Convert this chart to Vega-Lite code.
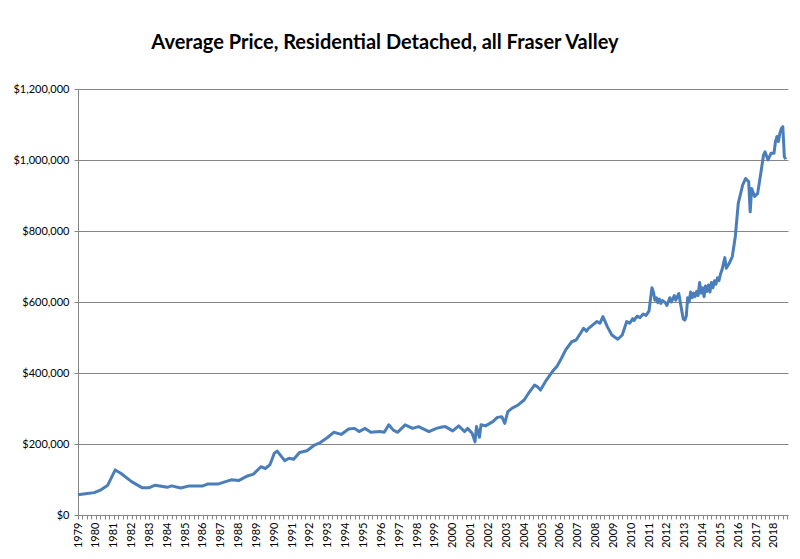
{
  "$schema": "https://vega.github.io/schema/vega-lite/v6.json",
  "width": 710,
  "height": 426,
  "autosize": {"type": "none"},
  "padding": {"left": 78, "top": 89, "right": 12, "bottom": 44},
  "background": "white",
  "title": {
    "text": "Average Price, Residential Detached, all Fraser Valley",
    "font": "Lato",
    "fontSize": 20,
    "fontWeight": "bold",
    "color": "#000000",
    "anchor": "middle",
    "dx": -48,
    "offset": 30
  },
  "data": {
    "values": [
      {"month": "1979-01", "price": 57000},
      {"month": "1979-06", "price": 60000},
      {"month": "1979-12", "price": 63000},
      {"month": "1980-04", "price": 70000},
      {"month": "1980-09", "price": 84000},
      {"month": "1981-02", "price": 127000},
      {"month": "1981-06", "price": 117000},
      {"month": "1982-01", "price": 94000},
      {"month": "1982-08", "price": 77000},
      {"month": "1983-01", "price": 77000},
      {"month": "1983-05", "price": 84000},
      {"month": "1984-01", "price": 78000},
      {"month": "1984-04", "price": 82000},
      {"month": "1984-10", "price": 76000},
      {"month": "1985-04", "price": 82000},
      {"month": "1986-01", "price": 82000},
      {"month": "1986-04", "price": 87000},
      {"month": "1986-11", "price": 87000},
      {"month": "1987-08", "price": 99000},
      {"month": "1988-01", "price": 97000},
      {"month": "1988-07", "price": 110000},
      {"month": "1988-11", "price": 115000},
      {"month": "1989-04", "price": 136000},
      {"month": "1989-07", "price": 131000},
      {"month": "1989-10", "price": 141000},
      {"month": "1990-01", "price": 174000},
      {"month": "1990-03", "price": 180000},
      {"month": "1990-08", "price": 153000},
      {"month": "1990-11", "price": 160000},
      {"month": "1991-02", "price": 157000},
      {"month": "1991-06", "price": 176000},
      {"month": "1991-11", "price": 181000},
      {"month": "1992-04", "price": 197000},
      {"month": "1992-08", "price": 204000},
      {"month": "1993-01", "price": 219000},
      {"month": "1993-05", "price": 233000},
      {"month": "1993-10", "price": 227000},
      {"month": "1994-03", "price": 242000},
      {"month": "1994-07", "price": 244000},
      {"month": "1994-10", "price": 235000},
      {"month": "1995-02", "price": 244000},
      {"month": "1995-06", "price": 233000},
      {"month": "1995-12", "price": 235000},
      {"month": "1996-03", "price": 233000},
      {"month": "1996-06", "price": 254000},
      {"month": "1996-09", "price": 239000},
      {"month": "1996-12", "price": 233000},
      {"month": "1997-05", "price": 254000},
      {"month": "1997-10", "price": 244000},
      {"month": "1998-02", "price": 249000},
      {"month": "1998-09", "price": 235000},
      {"month": "1999-02", "price": 244000},
      {"month": "1999-05", "price": 247000},
      {"month": "1999-08", "price": 249000},
      {"month": "2000-01", "price": 237000},
      {"month": "2000-05", "price": 251000},
      {"month": "2000-09", "price": 235000},
      {"month": "2000-11", "price": 244000},
      {"month": "2001-02", "price": 230000},
      {"month": "2001-04", "price": 206000},
      {"month": "2001-05", "price": 249000},
      {"month": "2001-07", "price": 219000},
      {"month": "2001-08", "price": 254000},
      {"month": "2001-11", "price": 251000},
      {"month": "2002-04", "price": 263000},
      {"month": "2002-07", "price": 275000},
      {"month": "2002-10", "price": 277000},
      {"month": "2002-12", "price": 258000},
      {"month": "2003-02", "price": 291000},
      {"month": "2003-05", "price": 301000},
      {"month": "2003-09", "price": 310000},
      {"month": "2004-01", "price": 324000},
      {"month": "2004-04", "price": 343000},
      {"month": "2004-08", "price": 366000},
      {"month": "2004-10", "price": 361000},
      {"month": "2004-12", "price": 352000},
      {"month": "2005-04", "price": 380000},
      {"month": "2005-08", "price": 404000},
      {"month": "2005-11", "price": 418000},
      {"month": "2006-02", "price": 441000},
      {"month": "2006-05", "price": 465000},
      {"month": "2006-09", "price": 488000},
      {"month": "2006-12", "price": 493000},
      {"month": "2007-03", "price": 512000},
      {"month": "2007-05", "price": 526000},
      {"month": "2007-07", "price": 518000},
      {"month": "2007-08", "price": 524000},
      {"month": "2007-11", "price": 535000},
      {"month": "2008-02", "price": 545000},
      {"month": "2008-04", "price": 540000},
      {"month": "2008-06", "price": 559000},
      {"month": "2008-09", "price": 530000},
      {"month": "2008-12", "price": 507000},
      {"month": "2009-04", "price": 495000},
      {"month": "2009-07", "price": 507000},
      {"month": "2009-10", "price": 545000},
      {"month": "2009-12", "price": 540000},
      {"month": "2010-02", "price": 553000},
      {"month": "2010-03", "price": 548000},
      {"month": "2010-05", "price": 560000},
      {"month": "2010-07", "price": 556000},
      {"month": "2010-09", "price": 566000},
      {"month": "2010-11", "price": 562000},
      {"month": "2011-01", "price": 575000},
      {"month": "2011-02", "price": 610000},
      {"month": "2011-03", "price": 640000},
      {"month": "2011-04", "price": 628000},
      {"month": "2011-05", "price": 605000},
      {"month": "2011-06", "price": 612000},
      {"month": "2011-07", "price": 598000},
      {"month": "2011-08", "price": 608000},
      {"month": "2011-09", "price": 596000},
      {"month": "2011-10", "price": 604000},
      {"month": "2011-12", "price": 598000},
      {"month": "2012-01", "price": 590000},
      {"month": "2012-03", "price": 612000},
      {"month": "2012-04", "price": 600000},
      {"month": "2012-06", "price": 618000},
      {"month": "2012-07", "price": 605000},
      {"month": "2012-09", "price": 624000},
      {"month": "2012-10", "price": 600000},
      {"month": "2012-11", "price": 575000},
      {"month": "2012-12", "price": 552000},
      {"month": "2013-01", "price": 549000},
      {"month": "2013-02", "price": 560000},
      {"month": "2013-03", "price": 612000},
      {"month": "2013-04", "price": 600000},
      {"month": "2013-05", "price": 628000},
      {"month": "2013-06", "price": 612000},
      {"month": "2013-07", "price": 625000},
      {"month": "2013-08", "price": 615000},
      {"month": "2013-09", "price": 630000},
      {"month": "2013-10", "price": 618000},
      {"month": "2013-11", "price": 655000},
      {"month": "2013-12", "price": 625000},
      {"month": "2014-01", "price": 640000},
      {"month": "2014-02", "price": 615000},
      {"month": "2014-03", "price": 645000},
      {"month": "2014-04", "price": 630000},
      {"month": "2014-05", "price": 648000},
      {"month": "2014-06", "price": 628000},
      {"month": "2014-07", "price": 655000},
      {"month": "2014-08", "price": 640000},
      {"month": "2014-09", "price": 660000},
      {"month": "2014-10", "price": 650000},
      {"month": "2014-11", "price": 668000},
      {"month": "2014-12", "price": 660000},
      {"month": "2015-01", "price": 678000},
      {"month": "2015-02", "price": 690000},
      {"month": "2015-04", "price": 725000},
      {"month": "2015-05", "price": 695000},
      {"month": "2015-07", "price": 709000},
      {"month": "2015-09", "price": 728000},
      {"month": "2015-11", "price": 784000},
      {"month": "2016-01", "price": 878000},
      {"month": "2016-04", "price": 930000},
      {"month": "2016-06", "price": 948000},
      {"month": "2016-08", "price": 939000},
      {"month": "2016-09", "price": 854000},
      {"month": "2016-10", "price": 920000},
      {"month": "2016-12", "price": 897000},
      {"month": "2017-02", "price": 906000},
      {"month": "2017-04", "price": 958000},
      {"month": "2017-06", "price": 1014000},
      {"month": "2017-07", "price": 1023000},
      {"month": "2017-09", "price": 1000000},
      {"month": "2017-11", "price": 1019000},
      {"month": "2018-01", "price": 1019000},
      {"month": "2018-02", "price": 1052000},
      {"month": "2018-03", "price": 1066000},
      {"month": "2018-04", "price": 1052000},
      {"month": "2018-05", "price": 1075000},
      {"month": "2018-06", "price": 1089000},
      {"month": "2018-07", "price": 1094000},
      {"month": "2018-08", "price": 1009000},
      {"month": "2018-09", "price": 1002000}
    ]
  },
  "mark": {"type": "line", "color": "#4A7EBB", "strokeWidth": 3, "strokeJoin": "round"},
  "encoding": {
    "x": {
      "field": "month",
      "type": "temporal",
      "scale": {"domain": ["1979-01-01", "2018-10-15"]},
      "axis": {
        "title": null,
        "grid": false,
        "tickCount": {"interval": "month", "step": 3},
        "labelExpr": "month(datum.value) == 0 ? timeFormat(datum.value, '%Y') : ''",
        "labelOverlap": false,
        "labelAngle": 270,
        "labelAlign": "right",
        "labelBaseline": "middle",
        "labelFont": "Lato",
        "labelFontSize": 11,
        "labelColor": "#000000",
        "labelPadding": 3,
        "domainColor": "#868686",
        "tickColor": "#868686",
        "tickSize": 4
      }
    },
    "y": {
      "field": "price",
      "type": "quantitative",
      "scale": {"domain": [0, 1200000], "nice": false},
      "axis": {
        "title": null,
        "values": [0, 200000, 400000, 600000, 800000, 1000000, 1200000],
        "format": "$,.0f",
        "labelFont": "Lato",
        "labelFontSize": 11,
        "labelColor": "#000000",
        "labelPadding": 5,
        "gridColor": "#868686",
        "domainColor": "#868686",
        "tickColor": "#868686",
        "tickSize": 4
      }
    }
  },
  "config": {"view": {"stroke": null}}
}
